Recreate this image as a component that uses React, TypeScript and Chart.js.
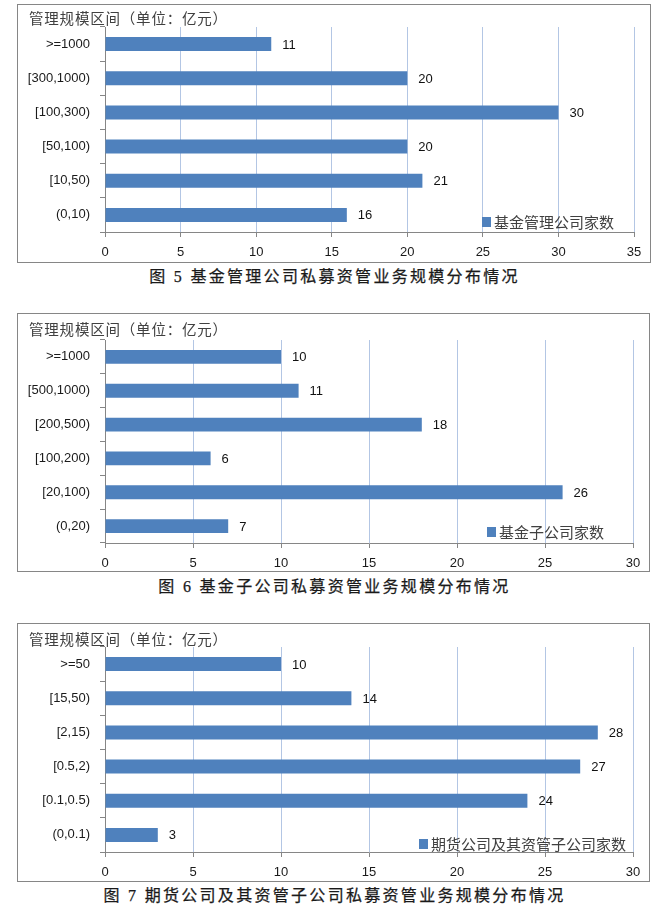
import React, { useEffect, useRef } from "react";
import { Chart, registerables } from "chart.js";

Chart.register(...registerables);

// ---- data ----
const axisTitle = "管理规模区间（单位：亿元）";

const c1Labels = [">=1000", "[300,1000)", "[100,300)", "[50,100)", "[10,50)", "(0,10)"];
const c1Values = [11, 20, 30, 20, 21, 16];
const c1Series = "基金管理公司家数";
const c1Max = 35;
const c1Caption = "图 5 基金管理公司私募资管业务规模分布情况";

const c2Labels = [">=1000", "[500,1000)", "[200,500)", "[100,200)", "[20,100)", "(0,20)"];
const c2Values = [10, 11, 18, 6, 26, 7];
const c2Series = "基金子公司家数";
const c2Max = 30;
const c2Caption = "图 6 基金子公司私募资管业务规模分布情况";

const c3Labels = [">=50", "[15,50)", "[2,15)", "[0.5,2)", "[0.1,0.5)", "(0,0.1)"];
const c3Values = [10, 14, 28, 27, 24, 3];
const c3Series = "期货公司及其资管子公司家数";
const c3Max = 30;
const c3Caption = "图 7 期货公司及其资管子公司私募资管业务规模分布情况";

const tickStep = 5;

const BAR = "#4f81bd";
const AXIS = "#868686";
const GRID = "#b3c6e4";
const TEXT = "#1a1a1a";
const LATIN = "'Liberation Sans', Arial, sans-serif";
const CJK = "'Noto Sans CJK SC', sans-serif";

type PanelProps = {
  labels: string[];
  values: number[];
  series: string;
  max: number;
  left: number;
  top: number;
  w: number;
  h: number;
  padTop: number;
  axisH: number;
  titleY: number;
  legendX: number;
  legendY: number;
};

function Panel(p: PanelProps) {
  const ref = useRef<HTMLCanvasElement | null>(null);
  useEffect(() => {
    const canvas = ref.current;
    if (!canvas) return;

    const frame = {
      id: "frame",
      beforeDraw(chart: any) {
        const ctx = chart.ctx;
        ctx.save();
        ctx.fillStyle = "#fff";
        ctx.fillRect(0, 0, chart.width, chart.height);
        ctx.strokeStyle = AXIS;
        ctx.lineWidth = 1;
        ctx.strokeRect(0.5, 0.5, chart.width - 1, chart.height - 1);
        ctx.font = `14.5px ${CJK}`;
        ctx.fillStyle = "#404040";
        ctx.textAlign = "left";
        ctx.textBaseline = "middle";
        try {
          (ctx as any).letterSpacing = "0.8px";
        } catch (e) {}
        ctx.fillText(axisTitle, 12, p.titleY);
        ctx.restore();
      },
    };

    const valueLabels = {
      id: "valueLabels",
      afterDatasetsDraw(chart: any) {
        const ctx = chart.ctx;
        const meta = chart.getDatasetMeta(0);
        ctx.save();
        ctx.font = `13px ${LATIN}`;
        ctx.fillStyle = "#111";
        ctx.textAlign = "left";
        ctx.textBaseline = "middle";
        meta.data.forEach((el: any, i: number) => {
          ctx.fillText(String(chart.data.datasets[0].data[i]), el.x + 11, el.y + 1);
        });
        ctx.restore();
      },
    };

    const legendBox = {
      id: "legendBox",
      afterDraw(chart: any) {
        const ctx = chart.ctx;
        ctx.save();
        ctx.fillStyle = BAR;
        ctx.fillRect(p.legendX, p.legendY - 5, 9, 10);
        ctx.font = `15px ${CJK}`;
        ctx.fillStyle = "#404040";
        ctx.textAlign = "left";
        ctx.textBaseline = "middle";
        ctx.fillText(p.series, p.legendX + 12, p.legendY);
        ctx.restore();
      },
    };

    const chart = new Chart(canvas, {
      type: "bar",
      data: {
        labels: p.labels,
        datasets: [
          {
            label: p.series,
            data: p.values,
            backgroundColor: BAR,
            borderWidth: 0,
            barPercentage: 0.41,
            categoryPercentage: 1,
          },
        ],
      },
      options: {
        indexAxis: "y",
        responsive: false,
        animation: false,
        layout: { padding: { left: 0, right: 17, top: p.padTop, bottom: 0 } },
        plugins: {
          legend: { display: false },
          tooltip: { enabled: false },
        },
        scales: {
          x: {
            min: 0,
            max: p.max,
            ticks: {
              stepSize: tickStep,
              font: { family: LATIN, size: 13 },
              color: TEXT,
              padding: 8,
              maxRotation: 0,
            },
            grid: { color: GRID, tickColor: AXIS, tickLength: 5, lineWidth: 1 },
            border: { color: AXIS, width: 1 },
            afterFit: (s: any) => {
              s.height = p.axisH;
            },
          },
          y: {
            ticks: {
              font: { family: LATIN, size: 13 },
              color: TEXT,
              padding: 10,
            },
            grid: {
              drawOnChartArea: false,
              tickColor: AXIS,
              tickLength: 5,
              offset: true,
            },
            border: { color: AXIS, width: 1 },
            afterFit: (s: any) => {
              s.width = 88;
            },
          },
        },
      } as any,
      plugins: [frame, valueLabels, legendBox],
    });
    return () => chart.destroy();
  }, []);

  return (
    <canvas
      ref={ref}
      width={p.w}
      height={p.h}
      style={{ position: "absolute", left: p.left, top: p.top, width: p.w, height: p.h }}
    />
  );
}

function Caption({ text, y }: { text: string; y: number }) {
  return (
    <div
      style={{
        position: "absolute",
        left: 0,
        width: 669,
        top: y - 11,
        height: 22,
        lineHeight: "22px",
        textAlign: "center",
        fontFamily: "'Liberation Serif', 'Noto Sans CJK SC', serif",
        fontWeight: "normal",
        fontSize: 16,
        letterSpacing: "2.3px",
        color: "#1a1a1a",
        whiteSpace: "nowrap",
        WebkitTextStroke: "0.25px #1a1a1a",
      }}
    >
      {text}
    </div>
  );
}

export default function App() {
  return (
    <div style={{ position: "absolute", left: 0, top: 0, width: 669, height: 913, background: "#fff" }}>
      <Panel
        labels={c1Labels}
        values={c1Values}
        series={c1Series}
        max={c1Max}
        left={17}
        top={4}
        w={634}
        h={259}
        padTop={23}
        axisH={31}
        titleY={14}
        legendX={465}
        legendY={218}
      />
      <Caption text={c1Caption} y={277} />
      <Panel
        labels={c2Labels}
        values={c2Values}
        series={c2Series}
        max={c2Max}
        left={17}
        top={313}
        w={633}
        h={259}
        padTop={27}
        axisH={29}
        titleY={16}
        legendX={470}
        legendY={219}
      />
      <Caption text={c2Caption} y={587} />
      <Panel
        labels={c3Labels}
        values={c3Values}
        series={c3Series}
        max={c3Max}
        left={17}
        top={623}
        w={633}
        h={259}
        padTop={24}
        axisH={30}
        titleY={16}
        legendX={402}
        legendY={221}
      />
      <Caption text={c3Caption} y={896} />
    </div>
  );
}
